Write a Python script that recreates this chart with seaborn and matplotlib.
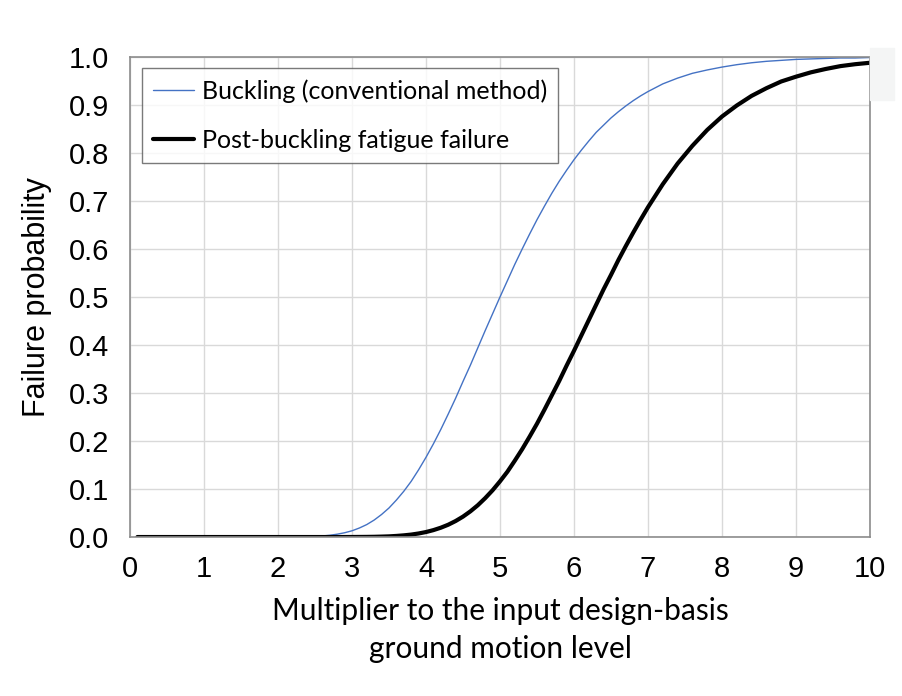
import pandas as pd
import seaborn as sns
import matplotlib.pyplot as plt
from matplotlib.patches import Rectangle

# values
x_vals = [0.1, 0.5, 1.0, 1.5, 2.0, 2.2, 2.4,
          2.5, 2.6, 2.7, 2.8, 2.9, 3.0, 3.1, 3.2, 3.3, 3.4,
          3.5, 3.6, 3.7, 3.8, 3.9, 4.0, 4.1, 4.2, 4.3, 4.4,
          4.5, 4.6, 4.7, 4.8, 4.9, 5.0, 5.1, 5.2, 5.3, 5.4,
          5.5, 5.6, 5.7, 5.8, 5.9, 6.0, 6.1, 6.2, 6.3, 6.4,
          6.5, 6.6, 6.7, 6.8, 6.9, 7.0,
          7.2, 7.4, 7.6, 7.8, 8.0, 8.2, 8.4, 8.6, 8.8, 9.0,
          9.2, 9.4, 9.6, 9.8, 10.0]
buckling = [0.0, 0.0, 0.0, 0.0, 0.0, 0.0002, 0.0007,
            0.0013, 0.0022, 0.0037, 0.0059, 0.0089, 0.013, 0.0188, 0.026, 0.0354, 0.047,
            0.0605, 0.077, 0.0953, 0.116, 0.140, 0.166, 0.194, 0.224, 0.256, 0.289,
            0.324, 0.358, 0.394, 0.430, 0.465, 0.500, 0.534, 0.568, 0.600, 0.631,
            0.661, 0.689, 0.716, 0.741, 0.764, 0.786, 0.806, 0.825, 0.843, 0.858,
            0.873, 0.886, 0.898, 0.909, 0.919, 0.928,
            0.944, 0.956, 0.966, 0.973, 0.979, 0.984, 0.988, 0.991, 0.993, 0.995,
            0.996, 0.997, 0.998, 0.998, 0.999]
post_buckling = [0.0, 0.0, 0.0, 0.0, 0.0, 0.0, 0.0,
                 0.0, 0.0, 0.0, 0.0, 0.0, 0.0001, 0.0002, 0.0003, 0.0005, 0.0009,
                 0.0014, 0.0023, 0.0035, 0.0051, 0.0074, 0.0104, 0.0144, 0.0194, 0.0256, 0.0333,
                 0.0425, 0.0535, 0.0662, 0.081, 0.0974, 0.116, 0.136, 0.159, 0.183, 0.209,
                 0.236, 0.265, 0.295, 0.325, 0.357, 0.388, 0.420, 0.452, 0.484, 0.516,
                 0.546, 0.577, 0.606, 0.634, 0.661, 0.687,
                 0.735, 0.778, 0.815, 0.848, 0.876, 0.899, 0.919, 0.935, 0.949, 0.959,
                 0.968, 0.975, 0.981, 0.985, 0.988]
series_names = ['Buckling (conventional method)', 'Post-buckling fatigue failure']

sns.set_style("white")
plt.rcParams['font.family'] = ['Lato', 'DejaVu Sans']
plt.rcParams['text.color'] = 'black'
plt.rcParams['axes.labelcolor'] = 'black'
plt.rcParams['xtick.color'] = 'black'
plt.rcParams['ytick.color'] = 'black'

df = pd.concat([
    pd.DataFrame({'x': x_vals, 'p': buckling, 'kind': series_names[0]}),
    pd.DataFrame({'x': x_vals, 'p': post_buckling, 'kind': series_names[1]}),
])

f = plt.figure(figsize=(9.02, 6.96), dpi=100)
ax = f.add_axes([0.1441, 0.2284, 0.8204, 0.6897])

sns.lineplot(data=df, x='x', y='p', hue='kind', size='kind',
             palette=['#4472C4', '#000000'], sizes=[1.0, 3.0],
             estimator=None, sort=False, ax=ax)

ax.set_xlim(0, 10)
ax.set_ylim(0, 1.0)
ax.set_xticks(range(0, 11))
ax.set_yticks([i / 10 for i in range(11)])
ax.set_yticklabels(['%.1f' % (i / 10) for i in range(11)])
ax.grid(True, color='#d9d9d9', linewidth=1)
ax.set_axisbelow(True)
for s in ax.spines.values():
    s.set_color('#8c8c8c')
    s.set_linewidth(1.2)
ax.tick_params(axis='both', length=0, labelsize=21, labelcolor='black')
ax.tick_params(axis='y', pad=15)
ax.tick_params(axis='x', pad=13)
for lab in ax.get_xticklabels() + ax.get_yticklabels():
    lab.set_family(['Liberation Sans', 'DejaVu Sans'])

ax.set_xlabel('Multiplier to the input design-basis\nground motion level',
              fontsize=21.5, labelpad=10, linespacing=1.45)
ax.set_ylabel('Failure probability', fontsize=22, labelpad=12,
              family=['Liberation Sans', 'DejaVu Sans'])

leg = ax.legend(loc='upper left', bbox_to_anchor=(0.016, 0.977), fontsize=18,
                frameon=True, fancybox=False, edgecolor='#595959',
                borderpad=0.45, borderaxespad=0, handlelength=1.65,
                handletextpad=0.3, labelspacing=1.05)
leg.get_frame().set_linewidth(1.0)

# faint grey block right of the plot top, as in the reference
f.patches.append(Rectangle((870 / 902, 1 - 100 / 696), 24 / 902, 52 / 696,
                           transform=f.transFigure, color='#f4f5f5',
                           zorder=0))

f.savefig('out.png', dpi=100)
